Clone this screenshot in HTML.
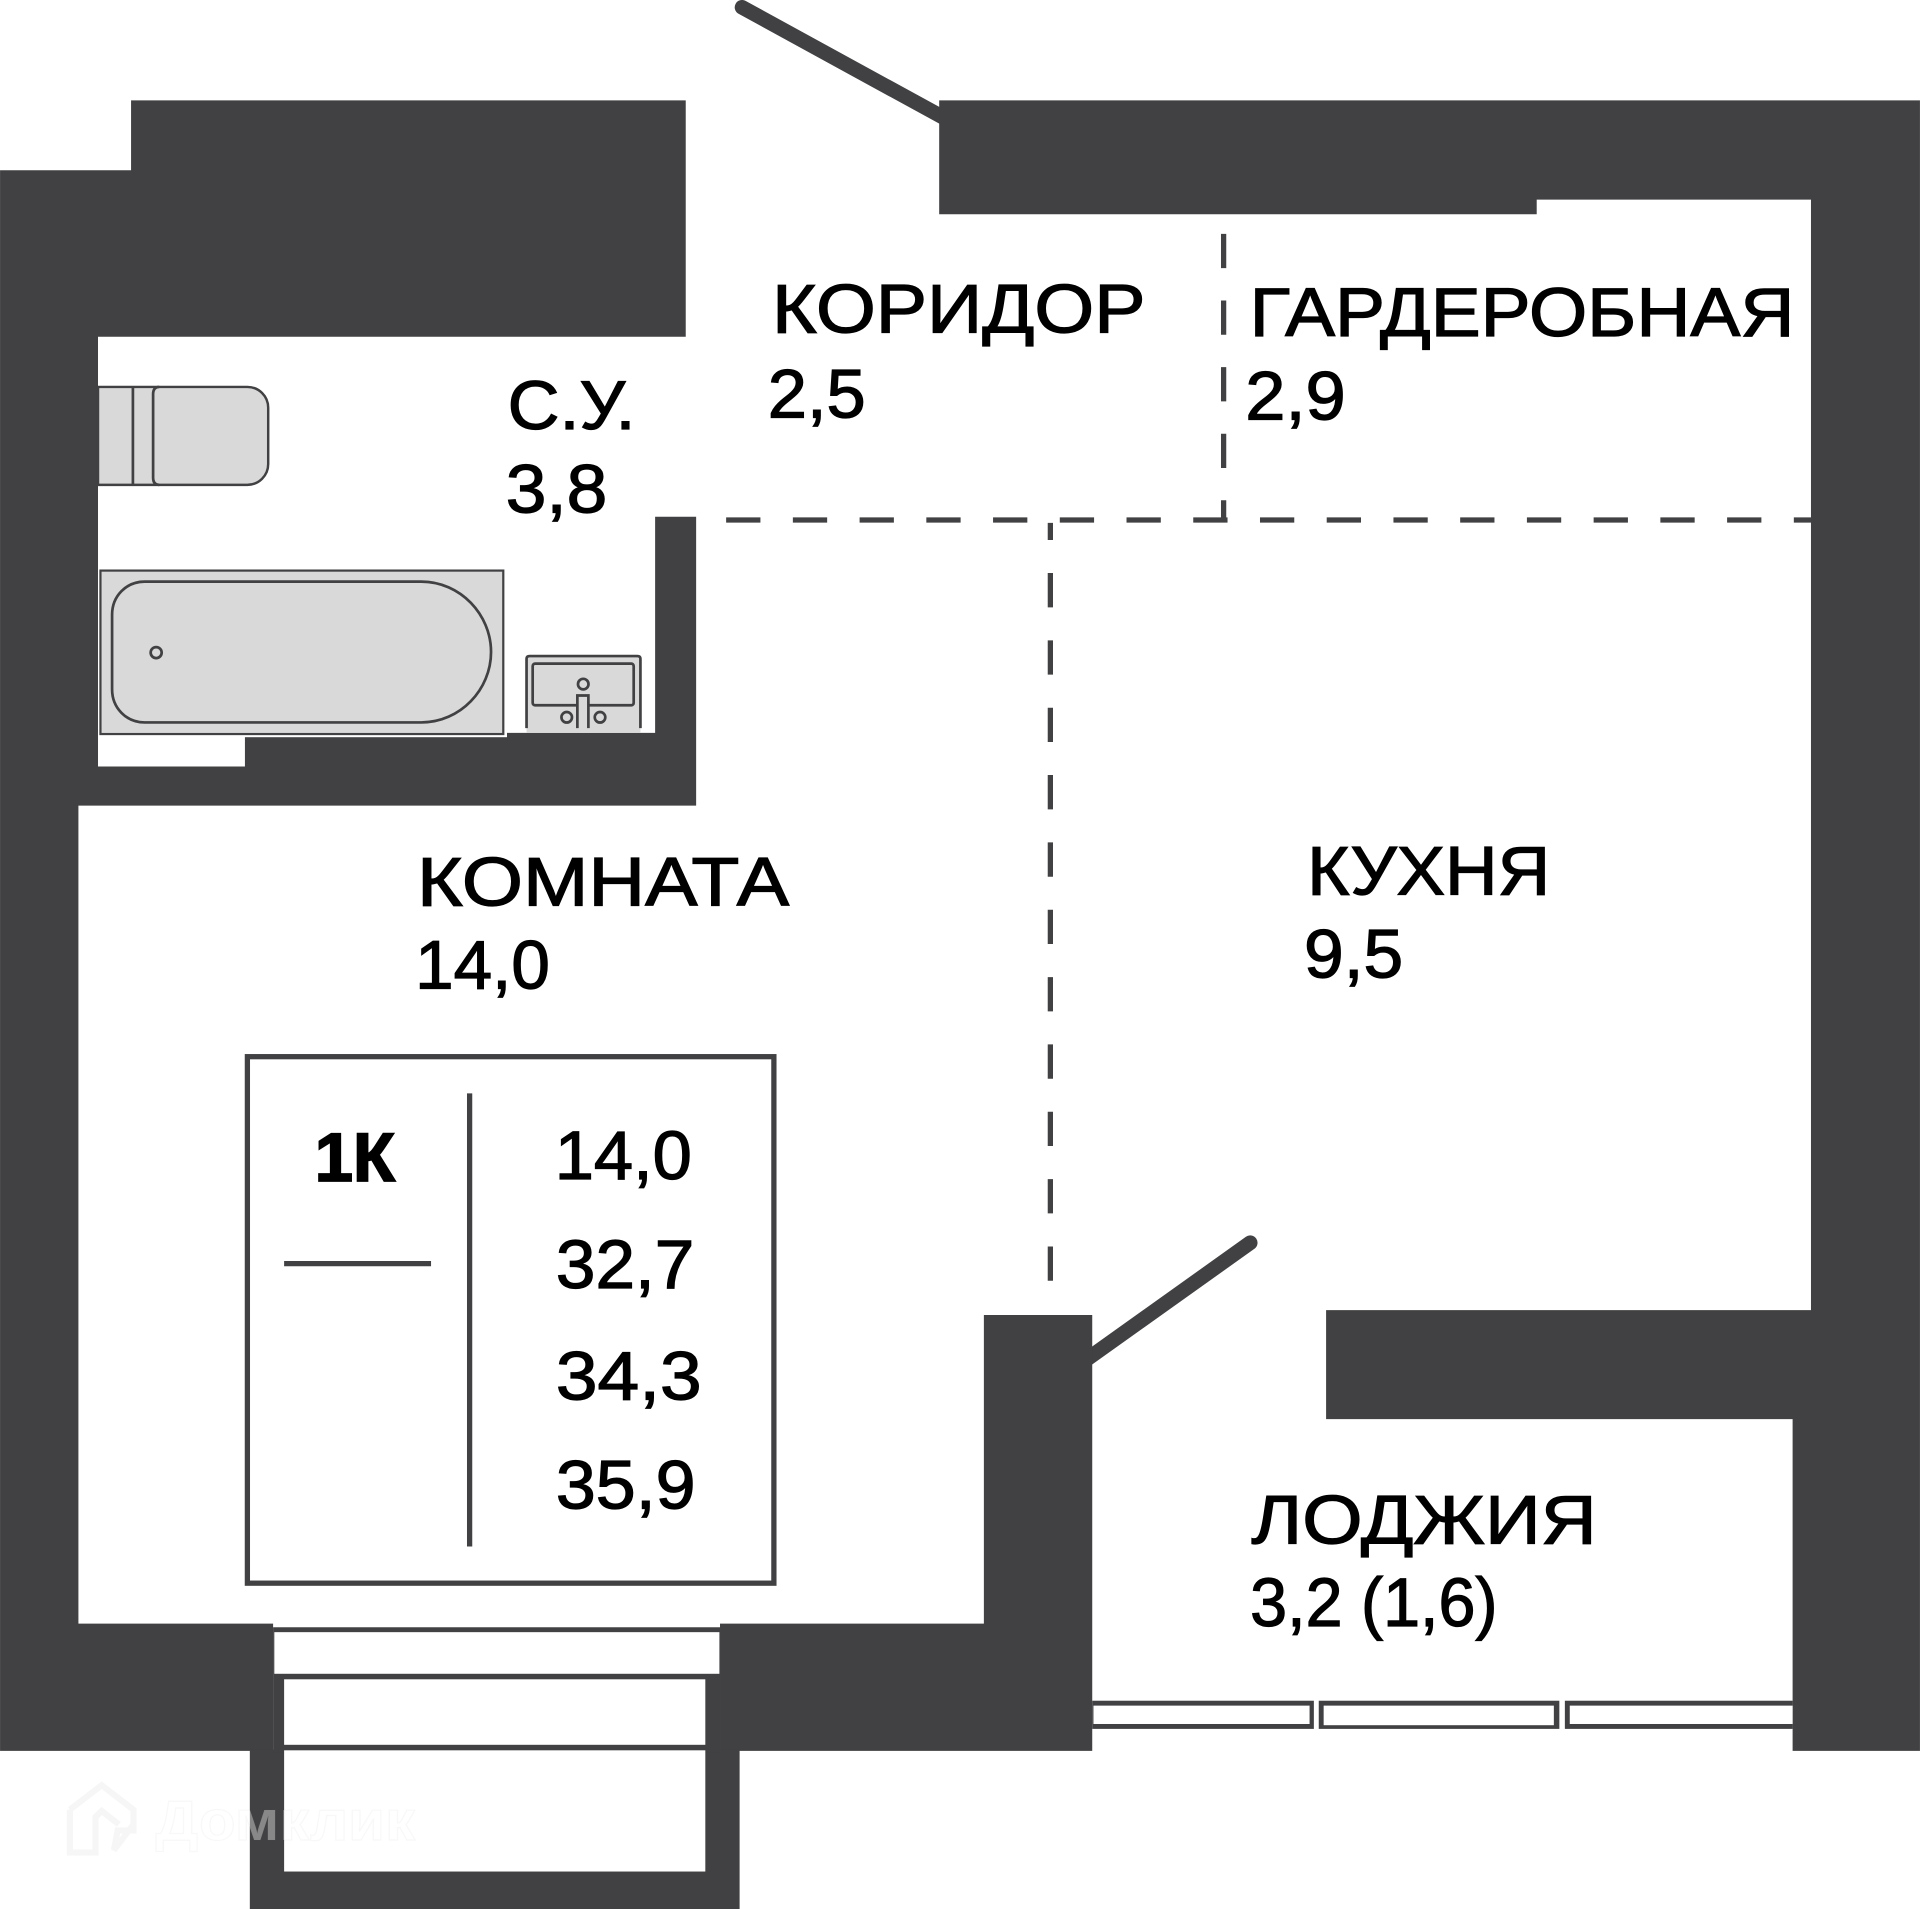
<!DOCTYPE html>
<html lang="ru"><head><meta charset="utf-8"><title>1К</title>
<style>html,body{margin:0;padding:0;background:#fff}svg{display:block}
text{font-family:"Liberation Sans",sans-serif;font-size:56px;fill:#000;stroke:#000;stroke-width:1;stroke-linejoin:miter}</style></head>
<body>
<svg xmlns="http://www.w3.org/2000/svg" width="1920" height="1909" viewBox="0 0 1568 1559.1">
<rect width="1568" height="1559.1" fill="#fff"/>
<!-- door leaves -->
<g stroke="#414042" stroke-width="12" fill="none" stroke-linecap="round">
<path d="M606 6L775 98.500"/>
<path d="M1021 1015L885 1112"/>
</g>
<!-- dashed partitions -->
<g stroke="#414042" stroke-width="4.300" fill="none">
<path d="M593 424.700H1479" stroke-dasharray="28 26.500"/>
<path d="M999.300 191V426" stroke-dasharray="28 26.400"/>
<path d="M857.800 1046V427" stroke-dasharray="28 27"/>
</g>
<g fill="#414042">
<path d="M107 82H560V275H80V626H200V602H414V598.500H535V422H568.500V658H64V1326H223V1430H0V139H107Z"/>
<path d="M767 82H1568V1430H1464V1159H1083V1070H1479V163H1255V175H767Z"/>
<path d="M588 1326H803.500V1074H892V1430H588Z"/>
<path d="M204 1429H604V1559.100H204Z"/>
<rect x="223" y="1329" width="365" height="102"/>
</g>
<g fill="#fff">
<rect x="224" y="1333" width="363.500" height="34"/>
<rect x="232" y="1371.500" width="344" height="53.500"/>
<rect x="232" y="1429.500" width="344" height="99"/>
</g>
<!-- balcony windows -->
<g fill="#414042">
<rect x="892" y="1389" width="181" height="23"/>
<rect x="1077" y="1389" width="196.500" height="23"/>
<rect x="1278" y="1389" width="186" height="23"/>
</g>
<g fill="#fff">
<rect x="893" y="1393" width="176.500" height="15"/>
<rect x="1081" y="1393" width="188" height="16"/>
<rect x="1282" y="1393" width="182" height="15"/>
</g>
<!-- toilet -->
<path d="M80 316H202a17 17 0 0 1 17 17V379a17 17 0 0 1-17 17H80Z" fill="#d9d9d9" stroke="#414042" stroke-width="2"/>
<path d="M108.500 316V396" stroke="#414042" stroke-width="2.200" fill="none"/>
<path d="M130 316Q125 316 125 322V390Q125 396 130 396" stroke="#414042" stroke-width="2.200" fill="none"/>
<!-- bath -->
<rect x="80" y="464" width="334" height="138" fill="#fff"/>
<rect x="82" y="466" width="329" height="133.500" fill="#d9d9d9" stroke="#414042" stroke-width="1.800"/>
<path d="M118 475H344C376 475 401 502 401 532.500C401 563 376 590 344 590H118C103 590 91.500 578 91.500 563V502C91.500 487 103 475 118 475Z" fill="none" stroke="#414042" stroke-width="2.200"/>
<circle cx="127.500" cy="533" r="4.500" fill="none" stroke="#414042" stroke-width="2.200"/>
<!-- sink -->
<path d="M430 598.400V538Q430 535.800 432.500 535.800H520.500Q523 535.800 523 538V598.400Z" fill="#d9d9d9"/>
<path d="M430 594.700V538Q430 535.800 432.500 535.800H520.500Q523 535.800 523 538V594.700" fill="none" stroke="#414042" stroke-width="2.200"/>
<rect x="435" y="542" width="82.500" height="34" rx="2" fill="none" stroke="#414042" stroke-width="2.200"/>
<path d="M471.500 594.700V568H480.500V594.700" fill="#d9d9d9" stroke="#414042" stroke-width="2.200"/>
<g fill="none" stroke="#414042" stroke-width="2.200">
<circle cx="476.300" cy="558.700" r="4.300"/><circle cx="462.800" cy="585.800" r="4.300"/><circle cx="490" cy="585.800" r="4.300"/>
</g>
<!-- watermark -->
<path d="M57 1478L83 1458L109 1478V1495H96L93 1511L109 1490M57 1478V1513H78V1484L83 1479L97 1490" fill="none" stroke="#f6f6f6" stroke-width="5"/>
<text x="127" y="1502.600" textLength="212" lengthAdjust="spacingAndGlyphs" style="font-size:46px;font-weight:bold;fill:rgba(255,255,255,.38);stroke:rgba(120,120,120,.05);stroke-width:1">Домклик</text>
<!-- legend -->
<rect x="202" y="863" width="430" height="430" fill="none" stroke="#414042" stroke-width="4.300"/>
<path d="M383.500 893V1263M232 1032H352" stroke="#414042" stroke-width="4.300" fill="none"/>
<!-- labels -->
<text x="630.500" y="271.500" textLength="305" lengthAdjust="spacingAndGlyphs">КОРИДОР</text>
<text x="627" y="341" textLength="80" lengthAdjust="spacingAndGlyphs">2,5</text>
<text x="1020.500" y="274.500" textLength="445" lengthAdjust="spacingAndGlyphs">ГАРДЕРОБНАЯ</text>
<text x="1017" y="342.500" textLength="82" lengthAdjust="spacingAndGlyphs">2,9</text>
<text x="414.500" y="350.500" textLength="104.500" lengthAdjust="spacingAndGlyphs">С.У.</text>
<text x="413" y="418.500" textLength="83" lengthAdjust="spacingAndGlyphs">3,8</text>
<text x="340.500" y="739.500" textLength="304" lengthAdjust="spacingAndGlyphs">КОМНАТА</text>
<text x="339" y="807.500" textLength="110" lengthAdjust="spacingAndGlyphs">14,0</text>
<text x="1067.500" y="730.500" textLength="198.500" lengthAdjust="spacingAndGlyphs">КУХНЯ</text>
<text x="1065" y="798.500" textLength="81" lengthAdjust="spacingAndGlyphs">9,5</text>
<text x="1022" y="1260.500" textLength="282" lengthAdjust="spacingAndGlyphs">ЛОДЖИЯ</text>
<text x="1021" y="1328" textLength="202" lengthAdjust="spacingAndGlyphs">3,2 (1,6)</text>
<text x="257" y="964.500" textLength="65.500" lengthAdjust="spacingAndGlyphs" style="font-weight:bold;stroke-width:1.500">1К</text>
<text x="453" y="963" textLength="112" lengthAdjust="spacingAndGlyphs">14,0</text>
<text x="454" y="1052" textLength="113" lengthAdjust="spacingAndGlyphs">32,7</text>
<text x="454" y="1143" textLength="119" lengthAdjust="spacingAndGlyphs">34,3</text>
<text x="454" y="1232" textLength="114" lengthAdjust="spacingAndGlyphs">35,9</text>
</svg>
</body></html>
